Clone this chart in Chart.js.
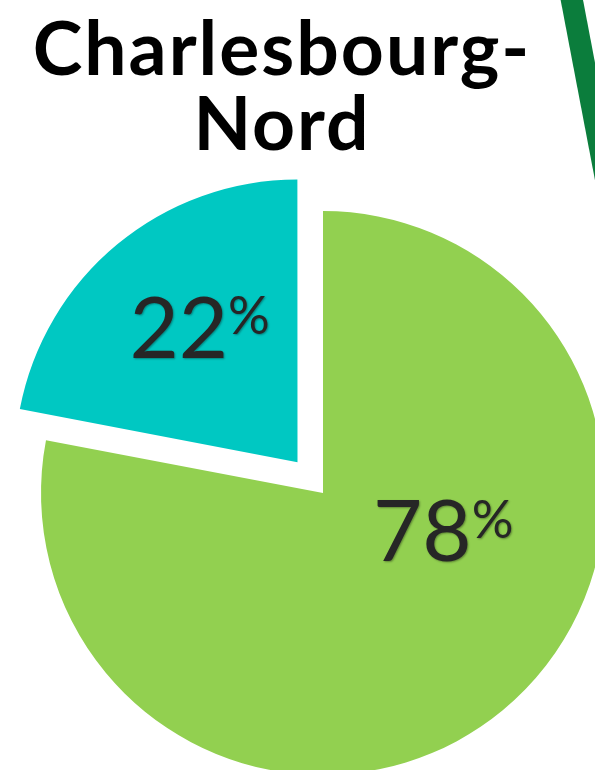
<!DOCTYPE html>
<html>
<head>
<meta charset="utf-8">
<script src="https://cdn.jsdelivr.net/npm/chart.js@4.4.1/dist/chart.umd.min.js"></script>
<style>
  html,body{margin:0;padding:0;background:#fff;}
  #page{position:relative;width:595px;height:770px;overflow:hidden;background:#fff;}
  #chartBox{position:absolute;left:0;top:0;width:646px;height:986px;}
  #title{position:absolute;left:0;top:9px;width:564px;text-align:center;
    font-family:Lato,sans-serif;font-weight:700;font-size:75px;line-height:75px;color:#000;letter-spacing:2px;}
  #stroke{position:absolute;left:578px;top:-30px;width:22px;height:240px;background:#0b7d3c;
    transform:rotate(-10.8deg);}
</style>
</head>
<body>
<div id="page">
  <div id="chartBox"><canvas id="pie"></canvas></div>
  <div id="stroke"></div>
  <div id="title">Charlesbourg-<br>Nord</div>
</div>
<script>
/* ===== Data ===== */
const SLICES = ['Vert','Turquoise'];
const VALUES = [78, 22];
const COLORS = ['#92d050','#00c8c2'];
const LABEL_TEXT = ['78','22'];

// label placement inside each slice: fraction along the arc, fraction of radius
const LABEL_POS = [
  {a:0.383, r:0.447},
  {a:0.545, r:0.59},
];

/* ===== Value labels ===== */
const pctLabels = {
  id:'pctLabels',
  afterDatasetsDraw(chart){
    const c = chart.ctx;
    const meta = chart.getDatasetMeta(0);
    meta.data.forEach((arc, i) => {
      const mid = (arc.startAngle + arc.endAngle)/2;
      const off = (arc.options.offset || 0)/4;
      const cx = arc.x + Math.cos(mid)*off, cy = arc.y + Math.sin(mid)*off;
      const ang = arc.startAngle + LABEL_POS[i].a*(arc.endAngle - arc.startAngle);
      const rad = LABEL_POS[i].r*arc.outerRadius;
      const x = cx + Math.cos(ang)*rad, y = cy + Math.sin(ang)*rad;

      const bigF = '400 85px Lato, sans-serif', smallF = '400 52px Lato, sans-serif';
      c.save();
      c.font = bigF;
      const wBig = c.measureText(LABEL_TEXT[i]).width;
      c.font = smallF;
      const wSmall = c.measureText('%').width;
      const left = x - (wBig + wSmall)/2;
      const digitH = 85*0.7165;
      const base = y + digitH/2;
      c.fillStyle = '#262626';
      c.shadowColor = 'rgba(0,0,0,0.35)';
      c.shadowOffsetX = 1; c.shadowOffsetY = 1; c.shadowBlur = 2;
      c.textBaseline = 'alphabetic';
      c.textAlign = 'left';
      c.font = bigF;
      c.fillText(LABEL_TEXT[i], left, base);
      c.font = smallF;
      c.fillText('%', left + wBig, base - digitH + 52*0.7165);
      c.restore();
    });
  }
};

/* ===== Chart ===== */
new Chart(document.getElementById('pie'), {
  type:'pie',
  plugins:[pctLabels],
  data:{
    labels:SLICES,
    datasets:[{
      data:VALUES,
      backgroundColor:COLORS,
      borderWidth:0,
      offset:[0,160],
      hoverOffset:0,
    }]
  },
  options:{
    responsive:true, maintainAspectRatio:false, animation:false,
    radius:282,
    layout:{padding:0},
    plugins:{legend:{display:false}, tooltip:{enabled:false}}
  }
});
</script>
</body>
</html>
